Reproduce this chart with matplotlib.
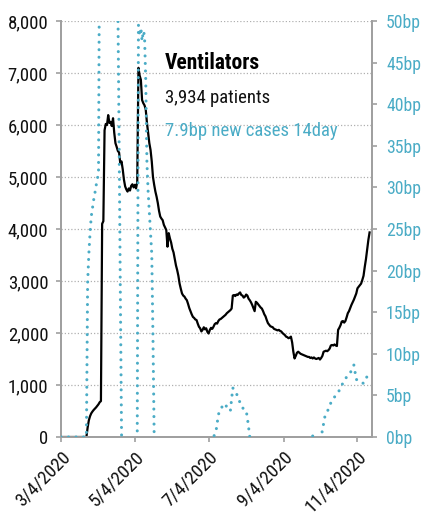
import numpy as np
import matplotlib
matplotlib.use('Agg')
import matplotlib.pyplot as plt

plt.rcParams['font.family'] = ['Roboto Condensed', 'DejaVu Sans']

# ---------------- data ----------------
start_date = np.datetime64('2020-03-04')

# ventilator patients, one value per day from 2020-03-04
vent_patients = [
    0, 0, 0, 0, 0, 0, 0, 0, 0, 0, 0, 0, 0, 0, 0, 0, 0, 0, 0, 0, 0, 0,      # 0-21
    180, 320, 400, 455, 490, 520, 545, 570, 600, 630, 670, 690,           # 22-33
    4100, 4150, 5900, 6020, 6000, 6190, 6040, 6060, 5980, 6130,            # 34-43
    5850, 5650, 5580, 5500, 5470, 5260, 5300, 5150, 4950, 4820,            # 44-53
    4760, 4720, 4780, 4740, 4830, 4860, 4800, 4850, 4780, 4900,            # 54-63
    7100, 6950, 6870, 6480, 6420, 6380, 6300, 6050, 5850, 5650,            # 64-73
    5520, 5300, 5000, 4850, 4720, 4620, 4500, 4350, 4240, 4200,            # 74-83
    4170, 4080, 4030, 3980, 3660, 3920, 3820, 3740, 3620, 3550,            # 84-93
    3420, 3300, 3210, 3100, 2950, 2850, 2760, 2720, 2700, 2660,            # 94-103
    2630, 2560, 2480, 2420, 2360, 2310, 2290, 2260, 2250, 2180,            # 104-113
    2120, 2090, 2030, 2060, 2110, 2070, 2090, 2020, 1990, 2060,            # 114-123
    2100, 2080, 2120, 2170, 2190, 2180, 2230, 2260, 2270, 2290,            # 124-133
    2310, 2330, 2350, 2380, 2400, 2420, 2440, 2470, 2720, 2730,            # 134-143
    2710, 2740, 2730, 2760, 2780, 2730, 2720, 2680, 2700, 2740,            # 144-153
    2720, 2660, 2630, 2590, 2540, 2480, 2420, 2600, 2580, 2550,            # 154-163
    2520, 2490, 2470, 2420, 2360, 2320, 2250, 2190, 2160, 2130,            # 164-173
    2120, 2110, 2080, 2070, 2060, 2050, 2060, 2040, 2030, 2000,            # 174-183
    1980, 1960, 1930, 1920, 1900, 1910, 1930, 1820, 1640, 1510,            # 184-193
    1560, 1620, 1640, 1620, 1600, 1590, 1580, 1570, 1560, 1550,            # 194-203
    1540, 1540, 1520, 1530, 1510, 1530, 1510, 1500, 1510, 1520,            # 204-213
    1490, 1520, 1560, 1640, 1650, 1660, 1650, 1670, 1700, 1760,            # 214-223
    1770, 1760, 1780, 1760, 1750, 2060, 2100, 2150, 2220, 2230,            # 224-233
    2200, 2230, 2300, 2380, 2420, 2480, 2540, 2590, 2640, 2700,            # 234-243
    2760, 2860, 2890, 2920, 2950, 3020, 3100, 3270, 3420, 3600,            # 244-253
    3790, 3934,                                                            # 254-255
]

# new cases 14-day (bp), day offset from 2020-03-04 and value
case_days = [0, 21, 22, 23, 24, 25, 26, 27, 28, 29, 30, 31, 32, 34, 36, 40, 44, 46,
             47, 48, 49, 50, 51, 56, 62, 63, 64, 65, 66, 67, 68, 69, 70, 71, 72, 73,
             74, 75, 76, 77, 78, 100, 124, 125, 126, 127, 128, 129, 130, 131, 132,
             133, 134, 135, 136, 137, 138, 139, 140, 141, 142, 143, 144, 145, 146,
             147, 148, 149, 150, 151, 152, 153, 154, 155, 156, 157, 180, 207, 208,
             209, 212, 214, 215, 216, 217, 218, 219, 220, 221, 222, 223, 224, 225,
             226, 227, 228, 229, 230, 231, 232, 233, 234, 235, 236, 237, 238, 239,
             240, 241, 242, 243, 244, 245, 246, 247, 248, 249, 250, 251, 252, 253,
             254, 255]
case_bp = [0, 0, 18.5, 22, 24.5, 26.5, 27.5, 28.5, 29.3, 30.2, 31, 31.7, 65, 90, 100, 92, 80, 68,
           52, 36, 18, 1, -15, -20, -6, 0, 49.5, 48.2, 49.2, 47.6, 48.8, 48.3, 43, 33, 29.5, 27,
           24.5, 22, 12, 0, -8, -12, -4, -2, 0, 0.3, 0.6, 1.6, 2.6, 3.2, 3.4,
           3.6, 3.4, 3.3, 3.6, 3.8, 3.5, 3.4, 3.2, 4.6, 5.9, 5.6, 5.4, 5.2, 4.9,
           4.5, 4.1, 3.8, 3.5, 3.4, 3.3, 3.2, 2.3, 1.2, 0, -6, -10, -4, 0.2,
           -4, -3, -1, 0, 0.8, 1.6, 2.4, 2.7, 3.0, 3.4, 3.8, 4.1, 4.4, 4.6,
           4.8, 5.0, 5.2, 5.4, 5.6, 5.9, 6.2, 6.5, 6.8, 7.0, 7.2, 7.3, 7.5, 7.7,
           8.0, 8.3, 8.65, 7.8, 6.9, 6.9, 6.8, 6.7, 6.6, 6.5, 6.45, 6.7, 7.0, 7.3,
           7.7, 7.9]

left_ticks = [0, 1000, 2000, 3000, 4000, 5000, 6000, 7000, 8000]
right_ticks = [0, 5, 10, 15, 20, 25, 30, 35, 40, 45, 50]
x_tick_dates = ['2020-03-04', '2020-05-04', '2020-07-04', '2020-09-04', '2020-11-04']
x_tick_labels = ['3/4/2020', '5/4/2020', '7/4/2020', '9/4/2020', '11/4/2020']

title_text = 'Ventilators'
patients_text = '3,934 patients'
cases_text = '7.9bp new cases 14day'

# ---------------- style ----------------
BLUE = '#4BACC6'
GRAY = '#a0a0a0'

vent_dates = start_date + np.arange(len(vent_patients))
case_dates = start_date + np.array(case_days)

fig = plt.figure(figsize=(4.3, 5.2), dpi=100)
ax = fig.add_axes([61 / 430, 1 - 437 / 520, 311 / 430, 416 / 520])
ax2 = ax.twinx()

ax.plot(vent_dates, vent_patients, color='black', lw=1.6, solid_joinstyle='round', zorder=3)
ax2.plot(case_dates, case_bp, color=BLUE, lw=2.2, linestyle=(0, (0.01, 2.45)),
         dash_capstyle='round', zorder=3)

ax.set_ylim(0, 8000)
ax2.set_ylim(0, 50)
ax.set_xlim(start_date, start_date + np.timedelta64(257, 'D'))

ax.set_yticks(left_ticks)
ax.set_yticklabels([f'{v:,}' for v in left_ticks])
ax2.set_yticks(right_ticks)
ax2.set_yticklabels([f'{v}bp' for v in right_ticks])

ax.set_xticks([np.datetime64(d) for d in x_tick_dates])
ax.set_xticklabels(x_tick_labels, rotation=45, ha='right', rotation_mode='anchor')

ax.yaxis.grid(True, linestyle=(0, (1, 1.6)), color='#b0b0b0', lw=0.9)
ax.set_axisbelow(True)

for a in (ax, ax2):
    a.spines['top'].set_visible(False)
    for s in ('left', 'right', 'bottom'):
        a.spines[s].set_color(GRAY)
        a.spines[s].set_linewidth(1.4)

ax.tick_params(axis='y', length=3.6, width=1.2, color=GRAY, labelsize=13.5, pad=5.5,
               labelcolor='#111111')
ax.tick_params(axis='x', length=3.6, width=1.2, color=GRAY, labelsize=13.5, pad=4,
               labelcolor='#111111')
ax2.tick_params(axis='y', length=3.6, width=1.2, color=GRAY, labelsize=12.8, pad=6.5,
                labelcolor=BLUE)

ax.text(0.334, 0.90, title_text, transform=ax.transAxes, fontsize=15.5,
        fontweight='bold', color='black', va='center', ha='left')
ax.text(0.334, 0.815, patients_text, transform=ax.transAxes, fontsize=13.5,
        color='#111111', va='center', ha='left')
ax.text(0.334, 0.735, cases_text, transform=ax.transAxes, fontsize=13.5,
        color=BLUE, va='center', ha='left')

fig.savefig('out.png', dpi=100)
